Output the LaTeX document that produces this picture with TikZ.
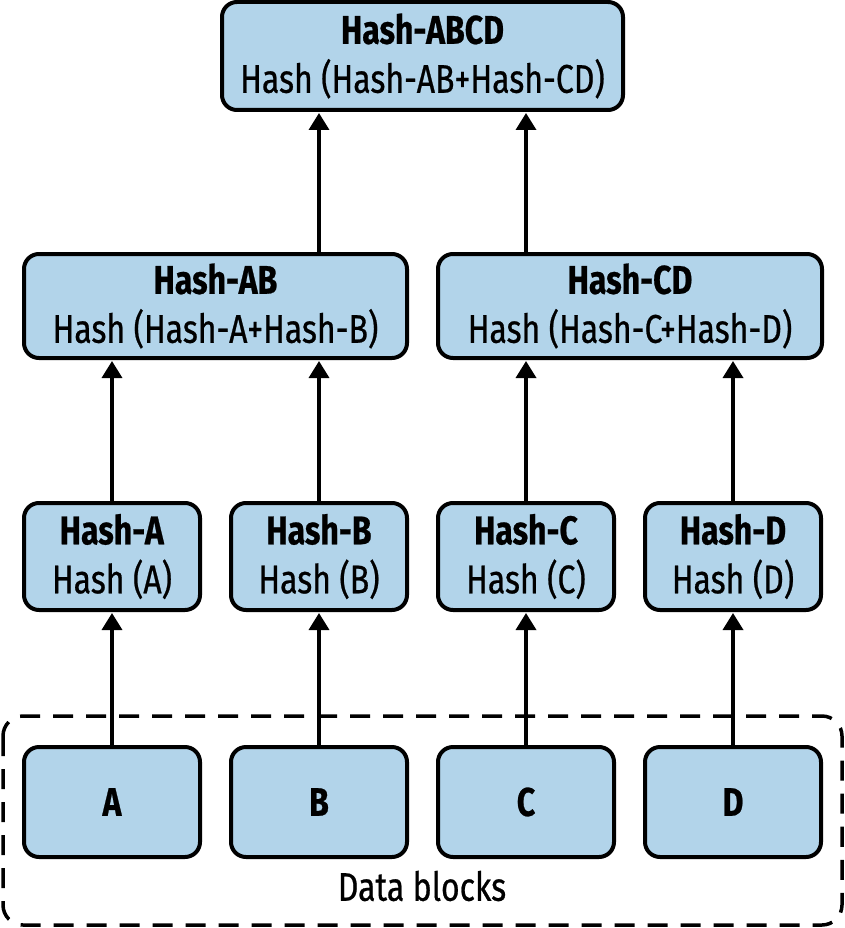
\documentclass[tikz,border=0pt]{standalone}
\usepackage{fontspec}
\setmainfont{Fira Sans}[FakeStretch=0.80, UprightFeatures={FakeBold=0.6}, BoldFeatures={FakeBold=0.6}]
\usetikzlibrary{arrows.meta}
\definecolor{boxblue}{HTML}{B2D4EA}
\tikzset{
  hbox/.style={draw=black, fill=boxblue, line width=4pt, rounded corners=15pt,
    inner sep=0pt, align=center, font=\fontsize{40}{49}\selectfont},
  conn/.style={line width=3.5pt, -{Triangle[width=20pt,length=17pt]}, shorten >=1pt},
}
\begin{document}
\begin{tikzpicture}[x=1pt,y=-1pt]
\useasboundingbox (0,0) rectangle (845,928);
% dashed container
\draw[line width=3.5pt, dash pattern=on 20pt off 13pt, rounded corners=20pt]
  (3,716) rectangle (842,925);
\node[font=\fontsize{40}{49}\selectfont] (lbl) at (422,886) {Data blocks};
% top
\node[hbox, minimum width=401pt, minimum height=108pt] (abcd) at (422.5,56)
  {\textbf{Hash-ABCD}\\Hash (Hash-AB+Hash-CD)};
\node[hbox, minimum width=383pt, minimum height=104pt] (ab) at (215.5,306)
  {\textbf{Hash-AB}\\Hash (Hash-A+Hash-B)};
\node[hbox, minimum width=384pt, minimum height=104pt] (cd) at (630,306)
  {\textbf{Hash-CD}\\Hash (Hash-C+Hash-D)};
\foreach \n/\x in {A/112,B/319,C/526,D/733}{
  \node[hbox, minimum width=176pt, minimum height=107pt] (h\n) at (\x,556.5)
    {\textbf{Hash-\n}\\Hash (\n)};
  \node[hbox, minimum width=176pt, minimum height=110pt, font=\fontsize{40}{49}\selectfont\bfseries] (d\n) at (\x,802) {\n};
  \draw[conn] (d\n.north) -- (h\n.south);
}
\draw[conn] (hA.north) -- (hA.north |- ab.south);
\draw[conn] (hB.north) -- (hB.north |- ab.south);
\draw[conn] (hC.north) -- (hC.north |- cd.south);
\draw[conn] (hD.north) -- (hD.north |- cd.south);
\draw[conn] (ab.north -| hB.north) -- (hB.north |- abcd.south);
\draw[conn] (cd.north -| hC.north) -- (hC.north |- abcd.south);
\end{tikzpicture}
\end{document}
